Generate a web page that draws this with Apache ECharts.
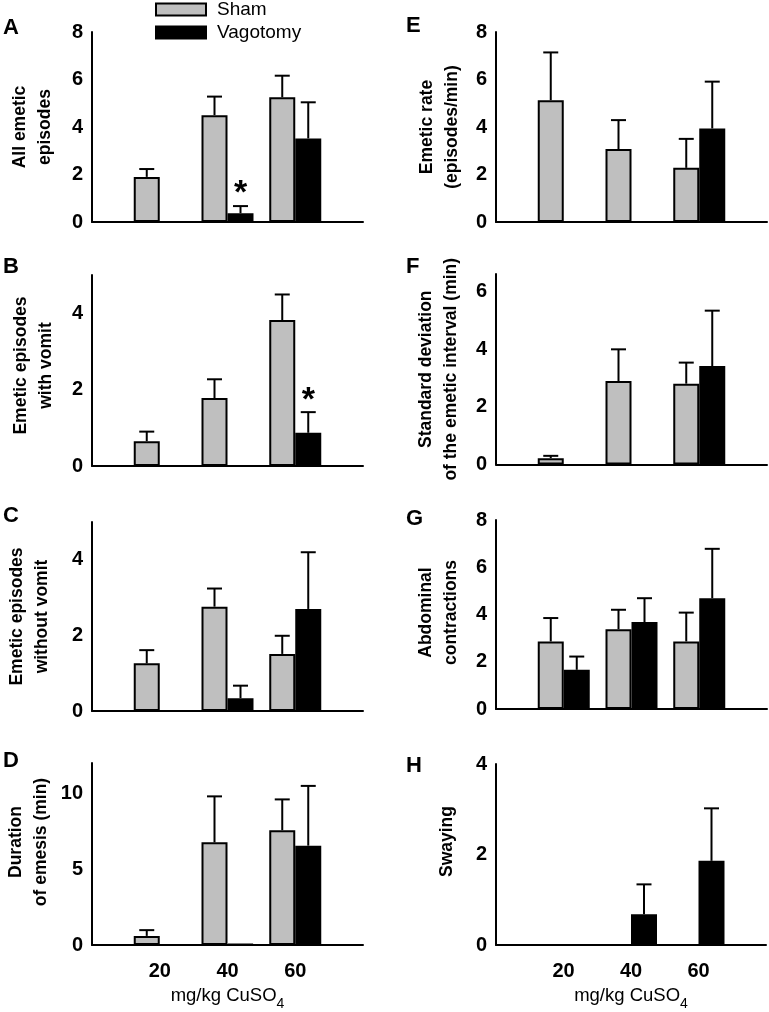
<!DOCTYPE html>
<html>
<head>
<meta charset="utf-8">
<script src="https://cdn.jsdelivr.net/npm/echarts@6/dist/echarts.min.js"></script>
<style>
html,body{margin:0;padding:0;background:#fff;}
#chart{width:769px;height:1012px;}
</style>
</head>
<body>
<div id="chart"></div>
<script>
// ---- data ----
const categories = ['', '20', '40', '60', ''];
const groupNames = ['Sham', 'Vagotomy'];
const panelLetters = ['A', 'B', 'C', 'D', 'E', 'F', 'G', 'H'];
const yNames = [
  'All emetic\nepisodes',
  'Emetic episodes\nwith vomit',
  'Emetic episodes\nwithout vomit',
  'Duration\nof emesis (min)',
  'Emetic rate\n(episodes/min)',
  'Standard deviation\nof the emetic interval (min)',
  'Abdominal\ncontractions',
  'Swaying'
];
const yMax = [8, 5, 5, 12, 8, 6.6, 8, 4];
const yInterval = [2, 2, 2, 5, 2, 2, 2, 2];
const xTitle = 'mg/kg CuSO';
const xTitleSub = '4';

// means and SEM (20, 40, 60 mg/kg)
const shamA = [1.9, 4.5, 5.25],  shamSemA = [0.33, 0.78, 0.91];
const vagoA = [0, 0.37, 3.52],   vagoSemA = [0, 0.30, 1.52];
const shamB = [0.65, 1.78, 3.82], shamSemB = [0.25, 0.49, 0.67];
const vagoB = [0, 0, 0.87],       vagoSemB = [0, 0, 0.54];
const shamC = [1.26, 2.76, 1.51], shamSemC = [0.35, 0.48, 0.48];
const vagoC = [0, 0.34, 2.7],     vagoSemC = [0, 0.33, 1.5];
const shamD = [0.6, 6.77, 7.57],  shamSemD = [0.38, 3.03, 2.03];
const vagoD = [0, 0.05, 6.55],    vagoSemD = [0, 0, 3.94];
const shamE = [5.13, 3.07, 2.28], shamSemE = [2.01, 1.22, 1.22];
const vagoE = [0, 0, 3.94],       vagoSemE = [0, 0, 1.97];
const shamF = [0.22, 2.89, 2.8],  shamSemF = [0.08, 1.1, 0.73];
const vagoF = [0, 0, 3.41],       vagoSemF = [0, 0, 1.92];
const shamG = [2.86, 3.38, 2.86], shamSemG = [0.99, 0.82, 1.22];
const vagoG = [1.66, 3.68, 4.69], vagoSemG = [0.56, 1.01, 2.09];
const shamH = [0, 0, 0],          shamSemH = [0, 0, 0];
const vagoH = [0, 0.68, 1.86],    vagoSemH = [0, 0.66, 1.16];
// significance markers (*) on Vagotomy bars
const vagoSigA = [0, 1, 0];
const vagoSigB = [0, 0, 1];

const shamAll = [shamA, shamB, shamC, shamD, shamE, shamF, shamG, shamH];
const shamSemAll = [shamSemA, shamSemB, shamSemC, shamSemD, shamSemE, shamSemF, shamSemG, shamSemH];
const vagoAll = [vagoA, vagoB, vagoC, vagoD, vagoE, vagoF, vagoG, vagoH];
const vagoSemAll = [vagoSemA, vagoSemB, vagoSemC, vagoSemD, vagoSemE, vagoSemF, vagoSemG, vagoSemH];
const vagoSigAll = [vagoSigA, vagoSigB, null, null, null, null, null, null];

// ---- layout / style ----
const FONT = "'Liberation Sans', Arial, sans-serif";
const BAR_W = 26;
const CAP = 15;
const SHAM_COLOR = '#bfbfbf';
const gridPos = [
  {left: 92, top: 32, h: 190}, {left: 92, top: 275, h: 191},
  {left: 92, top: 522, h: 189}, {left: 92, top: 763, h: 189},
  {left: 496, top: 32, h: 190}, {left: 496, top: 274, h: 190.5},
  {left: 496, top: 520, h: 189}, {left: 496, top: 764, h: 190}
];
const nameGaps = [34, 33, 37, 38, 31, 32, 32, 36];
const namePadShift = [0, 10, 0, 24, 0, 0, 4, 26];
const letterPos = [[3,17],[3,256],[3,505],[3,750],[406,15],[406,256],[406,508],[406,755]];

function renderErr(sign) {
  return function (params, api) {
    const ci = api.value(0), m = api.value(1), s = api.value(2), sig = api.value(3);
    const base = api.coord([ci, m]);
    const top = api.coord([ci, m + s]);
    const x = base[0] + sign * BAR_W / 2;
    const st = {stroke: '#000', lineWidth: 2};
    const children = [];
    if (s > 0) {
      children.push({type: 'line', shape: {x1: x, y1: base[1], x2: x, y2: top[1]}, style: st});
      children.push({type: 'line', shape: {x1: x - CAP / 2, y1: top[1], x2: x + CAP / 2, y2: top[1]}, style: st});
    }
    if (sig) {
      children.push({type: 'text', x: x, y: top[1] - 12,
        style: {text: '*', fill: '#000', font: 'bold 34px ' + FONT, align: 'center', verticalAlign: 'middle'}});
    }
    return {type: 'group', children: children};
  };
}

// a zero mean has no visible bar
function barData(vals) {
  return ['-'].concat(vals.map(v => (v === 0 ? '-' : v))).concat(['-']);
}

const grids = [], xAxes = [], yAxes = [], series = [], graphics = [];
for (let i = 0; i < 8; i++) {
  const g = gridPos[i];
  const bottomRow = (i === 3 || i === 7);
  grids.push({left: g.left, top: g.top, width: 271, height: g.h, containLabel: false});
  xAxes.push({
    type: 'category', gridIndex: i, data: categories, boundaryGap: false,
    axisLine: {lineStyle: {color: '#000', width: 2}},
    axisTick: {show: false},
    axisLabel: {show: bottomRow, margin: 16, color: '#000', fontSize: 20, fontWeight: 'bold', fontFamily: FONT, interval: 0},
    name: bottomRow ? '{a|' + xTitle + '}{s|' + xTitleSub + '}' : '',
    nameLocation: 'middle', nameGap: 41,
    nameTextStyle: {
      rich: {
        a: {fontSize: 18.5, fontFamily: FONT, color: '#000', lineHeight: 22, verticalAlign: 'top'},
        s: {fontSize: 14, fontFamily: FONT, color: '#000', lineHeight: 14, verticalAlign: 'bottom', padding: [0,0,-3,0]}
      }
    }
  });
  yAxes.push({
    type: 'value', gridIndex: i, min: 0, max: yMax[i], interval: yInterval[i],
    axisLine: {show: true, lineStyle: {color: '#000', width: 2}},
    axisTick: {show: false}, splitLine: {show: false},
    axisLabel: {margin: 9, color: '#000', fontSize: 20, fontWeight: 'bold', fontFamily: FONT,
      showMaxLabel: (yMax[i] % yInterval[i] === 0)},
    name: yNames[i], nameLocation: 'middle', nameRotate: 90, nameGap: nameGaps[i],
    nameTextStyle: {fontSize: 17.5, fontWeight: 'bold', fontFamily: FONT, color: '#000', lineHeight: 25,
      padding: [0, 0, 0, namePadShift[i]]}
  });
  series.push({type: 'bar', name: groupNames[0], xAxisIndex: i, yAxisIndex: i, data: barData(shamAll[i]),
    barWidth: BAR_W, barGap: '0%',
    itemStyle: {color: SHAM_COLOR, borderColor: '#000', borderWidth: 2}});
  series.push({type: 'bar', name: groupNames[1], xAxisIndex: i, yAxisIndex: i, data: barData(vagoAll[i]),
    barWidth: BAR_W, barGap: '0%',
    itemStyle: {color: '#000', borderColor: '#000', borderWidth: 2}});
  const se = shamAll[i].map((v, k) => [k + 1, v, shamSemAll[i][k], 0]);
  const ve = vagoAll[i].map((v, k) => [k + 1, v, vagoSemAll[i][k], vagoSigAll[i] ? vagoSigAll[i][k] : 0]);
  series.push({type: 'custom', name: 'errSham' + i, xAxisIndex: i, yAxisIndex: i, data: se,
    renderItem: renderErr(-1), z: 5, silent: true});
  series.push({type: 'custom', name: 'errVago' + i, xAxisIndex: i, yAxisIndex: i, data: ve,
    renderItem: renderErr(1), z: 5, silent: true});
  graphics.push({type: 'text', x: letterPos[i][0], y: letterPos[i][1],
    style: {text: panelLetters[i], font: 'bold 22px ' + FONT, fill: '#000', verticalAlign: 'top'}});
}

const chart = echarts.init(document.getElementById('chart'), null, {renderer: 'canvas'});
chart.setOption({
  animation: false,
  backgroundColor: '#fff',
  legend: {
    data: groupNames, orient: 'vertical', left: 155, top: 0, padding: 0, itemGap: 4,
    itemWidth: 50, itemHeight: 12, icon: 'rect',
    itemStyle: {borderColor: '#000', borderWidth: 2},
    textStyle: {fontSize: 19, color: '#000', fontFamily: FONT, padding: [0, 0, 0, 6]}
  },
  grid: grids, xAxis: xAxes, yAxis: yAxes, series: series, graphic: graphics
});
</script>
</body>
</html>
